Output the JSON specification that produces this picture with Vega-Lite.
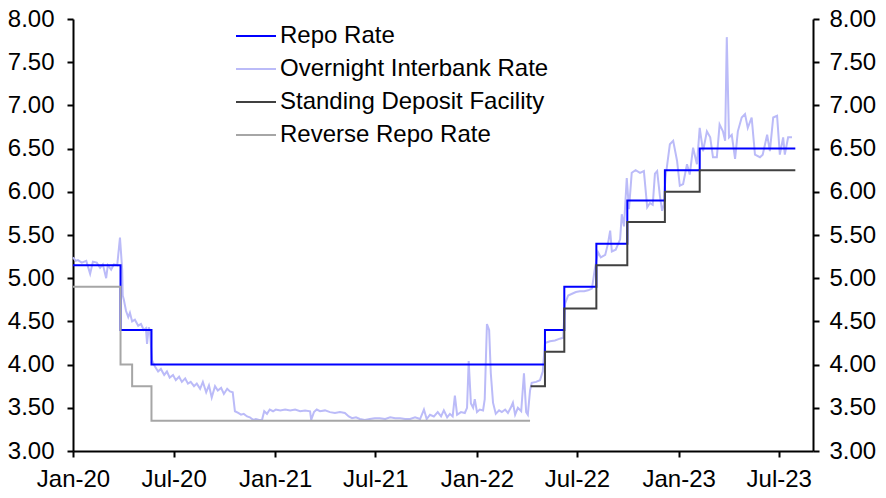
{
  "$schema": "https://vega.github.io/schema/vega-lite/v6.json",
  "width": 740,
  "height": 432,
  "autosize": {"type": "none"},
  "padding": {"left": 73, "top": 19, "right": 73, "bottom": 47},
  "background": "white",
  "config": {
    "view": {"stroke": null},
    "font": "Liberation Sans",
    "axis": {
      "labelFont": "Liberation Sans",
      "labelFontSize": 24,
      "labelColor": "black",
      "domainColor": "black",
      "domainWidth": 2,
      "tickColor": "black",
      "tickWidth": 2,
      "tickSize": 6,
      "grid": false,
      "title": null
    },
    "legend": {
      "orient": "none",
      "legendX": 162,
      "legendY": -4,
      "title": null,
      "labelFont": "Liberation Sans",
      "labelFontSize": 24,
      "labelColor": "black",
      "labelLimit": 400,
      "symbolType": "stroke",
      "symbolSize": 1600,
      "symbolStrokeWidth": 2,
      "labelOffset": 3,
      "rowPadding": 0,
      "padding": 0
    }
  },
  "datasets": {
    "ib": [
      {"d": "2020-01-01", "v": 5.24}, {"d": "2020-01-06", "v": 5.2}, {"d": "2020-01-10", "v": 5.21}, {"d": "2020-01-17", "v": 5.18},
      {"d": "2020-01-25", "v": 5.2}, {"d": "2020-02-01", "v": 5.05}, {"d": "2020-02-06", "v": 5.19}, {"d": "2020-02-13", "v": 5.18},
      {"d": "2020-02-19", "v": 5.12}, {"d": "2020-02-24", "v": 5.16}, {"d": "2020-03-01", "v": 5.0}, {"d": "2020-03-04", "v": 5.15},
      {"d": "2020-03-10", "v": 5.1}, {"d": "2020-03-15", "v": 5.16}, {"d": "2020-03-21", "v": 5.15}, {"d": "2020-03-26", "v": 5.47},
      {"d": "2020-03-30", "v": 5.1}, {"d": "2020-03-31", "v": 4.8}, {"d": "2020-04-02", "v": 4.75}, {"d": "2020-04-06", "v": 4.62},
      {"d": "2020-04-10", "v": 4.55}, {"d": "2020-04-13", "v": 4.6}, {"d": "2020-04-17", "v": 4.5}, {"d": "2020-04-22", "v": 4.52},
      {"d": "2020-04-28", "v": 4.45}, {"d": "2020-05-03", "v": 4.47}, {"d": "2020-05-08", "v": 4.4}, {"d": "2020-05-12", "v": 4.42},
      {"d": "2020-05-14", "v": 4.24}, {"d": "2020-05-17", "v": 4.43}, {"d": "2020-05-19", "v": 4.4}, {"d": "2020-05-23", "v": 4.05},
      {"d": "2020-05-28", "v": 3.98}, {"d": "2020-06-03", "v": 3.92}, {"d": "2020-06-08", "v": 3.95}, {"d": "2020-06-14", "v": 3.88},
      {"d": "2020-06-19", "v": 3.92}, {"d": "2020-06-24", "v": 3.85}, {"d": "2020-06-30", "v": 3.88}, {"d": "2020-07-05", "v": 3.82},
      {"d": "2020-07-11", "v": 3.86}, {"d": "2020-07-16", "v": 3.8}, {"d": "2020-07-22", "v": 3.84}, {"d": "2020-07-27", "v": 3.78},
      {"d": "2020-08-01", "v": 3.8}, {"d": "2020-08-07", "v": 3.75}, {"d": "2020-08-12", "v": 3.78}, {"d": "2020-08-18", "v": 3.72},
      {"d": "2020-08-23", "v": 3.8}, {"d": "2020-08-29", "v": 3.68}, {"d": "2020-09-03", "v": 3.76}, {"d": "2020-09-08", "v": 3.62},
      {"d": "2020-09-14", "v": 3.75}, {"d": "2020-09-19", "v": 3.7}, {"d": "2020-09-25", "v": 3.73}, {"d": "2020-09-30", "v": 3.66},
      {"d": "2020-10-06", "v": 3.72}, {"d": "2020-10-11", "v": 3.69}, {"d": "2020-10-16", "v": 3.68}, {"d": "2020-10-20", "v": 3.46},
      {"d": "2020-10-26", "v": 3.44}, {"d": "2020-10-31", "v": 3.42}, {"d": "2020-11-05", "v": 3.43}, {"d": "2020-11-11", "v": 3.4},
      {"d": "2020-11-16", "v": 3.39}, {"d": "2020-11-22", "v": 3.36}, {"d": "2020-11-27", "v": 3.37}, {"d": "2020-12-03", "v": 3.36},
      {"d": "2020-12-08", "v": 3.36}, {"d": "2020-12-12", "v": 3.46}, {"d": "2020-12-17", "v": 3.43}, {"d": "2020-12-22", "v": 3.48},
      {"d": "2020-12-28", "v": 3.46}, {"d": "2021-01-02", "v": 3.48}, {"d": "2021-01-10", "v": 3.47}, {"d": "2021-01-19", "v": 3.48},
      {"d": "2021-01-28", "v": 3.47}, {"d": "2021-02-06", "v": 3.48}, {"d": "2021-02-15", "v": 3.46}, {"d": "2021-02-24", "v": 3.47},
      {"d": "2021-03-05", "v": 3.46}, {"d": "2021-03-07", "v": 3.36}, {"d": "2021-03-12", "v": 3.45}, {"d": "2021-03-17", "v": 3.48},
      {"d": "2021-03-23", "v": 3.46}, {"d": "2021-04-01", "v": 3.47}, {"d": "2021-04-10", "v": 3.45}, {"d": "2021-04-19", "v": 3.44},
      {"d": "2021-04-28", "v": 3.45}, {"d": "2021-05-07", "v": 3.44}, {"d": "2021-05-14", "v": 3.4}, {"d": "2021-05-20", "v": 3.38},
      {"d": "2021-05-27", "v": 3.39}, {"d": "2021-06-03", "v": 3.37}, {"d": "2021-06-12", "v": 3.36}, {"d": "2021-06-21", "v": 3.37},
      {"d": "2021-06-30", "v": 3.38}, {"d": "2021-07-09", "v": 3.38}, {"d": "2021-07-19", "v": 3.37}, {"d": "2021-07-28", "v": 3.39},
      {"d": "2021-08-06", "v": 3.38}, {"d": "2021-08-15", "v": 3.38}, {"d": "2021-08-24", "v": 3.37}, {"d": "2021-09-02", "v": 3.37},
      {"d": "2021-09-11", "v": 3.39}, {"d": "2021-09-20", "v": 3.37}, {"d": "2021-09-27", "v": 3.48}, {"d": "2021-10-02", "v": 3.37},
      {"d": "2021-10-08", "v": 3.42}, {"d": "2021-10-15", "v": 3.4}, {"d": "2021-10-22", "v": 3.45}, {"d": "2021-10-28", "v": 3.4},
      {"d": "2021-11-02", "v": 3.47}, {"d": "2021-11-08", "v": 3.39}, {"d": "2021-11-13", "v": 3.43}, {"d": "2021-11-18", "v": 3.4},
      {"d": "2021-11-22", "v": 3.64}, {"d": "2021-11-26", "v": 3.42}, {"d": "2021-12-03", "v": 3.45}, {"d": "2021-12-10", "v": 3.44},
      {"d": "2021-12-14", "v": 3.5}, {"d": "2021-12-17", "v": 4.04}, {"d": "2021-12-21", "v": 3.55}, {"d": "2021-12-25", "v": 3.5},
      {"d": "2021-12-28", "v": 3.6}, {"d": "2022-01-01", "v": 3.45}, {"d": "2022-01-06", "v": 3.48}, {"d": "2022-01-12", "v": 3.47},
      {"d": "2022-01-15", "v": 3.6}, {"d": "2022-01-19", "v": 4.47}, {"d": "2022-01-23", "v": 4.4}, {"d": "2022-01-26", "v": 3.9},
      {"d": "2022-01-30", "v": 3.56}, {"d": "2022-02-04", "v": 3.43}, {"d": "2022-02-10", "v": 3.47}, {"d": "2022-02-15", "v": 3.45},
      {"d": "2022-02-21", "v": 3.48}, {"d": "2022-02-26", "v": 3.44}, {"d": "2022-03-03", "v": 3.5}, {"d": "2022-03-07", "v": 3.56},
      {"d": "2022-03-11", "v": 3.42}, {"d": "2022-03-16", "v": 3.5}, {"d": "2022-03-22", "v": 3.46}, {"d": "2022-03-27", "v": 3.9},
      {"d": "2022-03-31", "v": 3.45}, {"d": "2022-04-03", "v": 3.42}, {"d": "2022-04-07", "v": 3.7}, {"d": "2022-04-10", "v": 3.79},
      {"d": "2022-04-18", "v": 3.8}, {"d": "2022-04-25", "v": 3.82}, {"d": "2022-04-30", "v": 3.92}, {"d": "2022-05-04", "v": 4.25},
      {"d": "2022-05-13", "v": 4.27}, {"d": "2022-05-22", "v": 4.28}, {"d": "2022-05-31", "v": 4.3}, {"d": "2022-06-06", "v": 4.31},
      {"d": "2022-06-09", "v": 4.7}, {"d": "2022-06-15", "v": 4.8}, {"d": "2022-06-22", "v": 4.82}, {"d": "2022-06-29", "v": 4.84},
      {"d": "2022-07-06", "v": 4.85}, {"d": "2022-07-14", "v": 4.85}, {"d": "2022-07-21", "v": 4.86}, {"d": "2022-07-28", "v": 4.88},
      {"d": "2022-08-02", "v": 5.1}, {"d": "2022-08-08", "v": 5.3}, {"d": "2022-08-13", "v": 5.24}, {"d": "2022-08-21", "v": 5.27},
      {"d": "2022-08-26", "v": 5.4}, {"d": "2022-08-30", "v": 5.55}, {"d": "2022-09-02", "v": 5.31}, {"d": "2022-09-09", "v": 5.33},
      {"d": "2022-09-17", "v": 5.45}, {"d": "2022-09-20", "v": 5.74}, {"d": "2022-09-24", "v": 5.6}, {"d": "2022-09-29", "v": 6.16},
      {"d": "2022-10-03", "v": 5.8}, {"d": "2022-10-08", "v": 6.22}, {"d": "2022-10-15", "v": 6.25}, {"d": "2022-10-23", "v": 6.22},
      {"d": "2022-10-30", "v": 6.24}, {"d": "2022-11-05", "v": 5.82}, {"d": "2022-11-10", "v": 5.87}, {"d": "2022-11-15", "v": 5.85},
      {"d": "2022-11-19", "v": 6.21}, {"d": "2022-11-23", "v": 6.24}, {"d": "2022-11-28", "v": 5.95}, {"d": "2022-12-02", "v": 5.78},
      {"d": "2022-12-05", "v": 5.85}, {"d": "2022-12-08", "v": 6.16}, {"d": "2022-12-16", "v": 6.55}, {"d": "2022-12-22", "v": 6.59},
      {"d": "2022-12-29", "v": 6.36}, {"d": "2023-01-03", "v": 6.07}, {"d": "2023-01-09", "v": 6.09}, {"d": "2023-01-16", "v": 6.32},
      {"d": "2023-01-21", "v": 6.2}, {"d": "2023-01-27", "v": 6.51}, {"d": "2023-02-03", "v": 6.32}, {"d": "2023-02-08", "v": 6.74},
      {"d": "2023-02-14", "v": 6.47}, {"d": "2023-02-21", "v": 6.7}, {"d": "2023-02-27", "v": 6.63}, {"d": "2023-03-04", "v": 6.4},
      {"d": "2023-03-11", "v": 6.4}, {"d": "2023-03-16", "v": 6.78}, {"d": "2023-03-22", "v": 6.7}, {"d": "2023-03-26", "v": 6.59},
      {"d": "2023-03-29", "v": 7.79}, {"d": "2023-04-02", "v": 6.63}, {"d": "2023-04-07", "v": 6.66}, {"d": "2023-04-13", "v": 6.38},
      {"d": "2023-04-18", "v": 6.7}, {"d": "2023-04-25", "v": 6.86}, {"d": "2023-05-01", "v": 6.9}, {"d": "2023-05-06", "v": 6.74},
      {"d": "2023-05-13", "v": 6.86}, {"d": "2023-05-19", "v": 6.43}, {"d": "2023-05-28", "v": 6.4}, {"d": "2023-06-02", "v": 6.43},
      {"d": "2023-06-10", "v": 6.66}, {"d": "2023-06-15", "v": 6.47}, {"d": "2023-06-21", "v": 6.86}, {"d": "2023-06-28", "v": 6.88},
      {"d": "2023-07-03", "v": 6.43}, {"d": "2023-07-09", "v": 6.63}, {"d": "2023-07-12", "v": 6.43}, {"d": "2023-07-18", "v": 6.63},
      {"d": "2023-07-25", "v": 6.63}
    ],
    "steps": [
      {"s": "Repo Rate", "d": "2020-01-01", "v": 5.15},
      {"s": "Repo Rate", "d": "2020-03-27", "v": 4.4},
      {"s": "Repo Rate", "d": "2020-05-22", "v": 4.0},
      {"s": "Repo Rate", "d": "2022-05-04", "v": 4.4},
      {"s": "Repo Rate", "d": "2022-06-08", "v": 4.9},
      {"s": "Repo Rate", "d": "2022-08-05", "v": 5.4},
      {"s": "Repo Rate", "d": "2022-09-30", "v": 5.9},
      {"s": "Repo Rate", "d": "2022-12-07", "v": 6.25},
      {"s": "Repo Rate", "d": "2023-02-08", "v": 6.5},
      {"s": "Repo Rate", "d": "2023-07-31", "v": 6.5},
      {"s": "Standing Deposit Facility", "d": "2022-04-08", "v": 3.75},
      {"s": "Standing Deposit Facility", "d": "2022-05-04", "v": 4.15},
      {"s": "Standing Deposit Facility", "d": "2022-06-08", "v": 4.65},
      {"s": "Standing Deposit Facility", "d": "2022-08-05", "v": 5.15},
      {"s": "Standing Deposit Facility", "d": "2022-09-30", "v": 5.65},
      {"s": "Standing Deposit Facility", "d": "2022-12-07", "v": 6.0},
      {"s": "Standing Deposit Facility", "d": "2023-02-08", "v": 6.25},
      {"s": "Standing Deposit Facility", "d": "2023-07-31", "v": 6.25},
      {"s": "Reverse Repo Rate", "d": "2020-01-01", "v": 4.9},
      {"s": "Reverse Repo Rate", "d": "2020-03-27", "v": 4.0},
      {"s": "Reverse Repo Rate", "d": "2020-04-17", "v": 3.75},
      {"s": "Reverse Repo Rate", "d": "2020-05-22", "v": 3.35},
      {"s": "Reverse Repo Rate", "d": "2022-04-07", "v": 3.35}
    ]
  },
  "encoding": {
    "x": {
      "field": "d",
      "type": "temporal",
      "scale": {"domain": ["2020-01-01T00:00:00", "2023-09-01T00:00:00"]},
      "axis": {
        "format": "%b-%y",
        "tickCount": {"interval": "month", "step": 6},
        "labelPadding": 10,
        "labelFlush": false,
        "labelOverlap": false
      }
    }
  },
  "resolve": {"scale": {"y": "independent"}},
  "layer": [
    {
      "data": {"name": "ib"},
      "mark": {"type": "line", "strokeWidth": 2, "interpolate": "linear"},
      "encoding": {
        "y": {
          "field": "v",
          "type": "quantitative",
          "scale": {"domain": [3, 8], "nice": false, "zero": false},
          "axis": {"orient": "left", "values": [3, 3.5, 4, 4.5, 5, 5.5, 6, 6.5, 7, 7.5, 8], "format": ".2f", "labelPadding": 13}
        },
        "color": {
          "datum": "Overnight Interbank Rate",
          "scale": {
            "domain": ["Repo Rate", "Overnight Interbank Rate", "Standing Deposit Facility", "Reverse Repo Rate"],
            "range": ["#0000FF", "#BBBBF8", "#404040", "#A6A6A6"]
          }
        }
      }
    },
    {
      "data": {"name": "steps"},
      "mark": {"type": "line", "strokeWidth": 2, "interpolate": "step-after"},
      "encoding": {
        "y": {
          "field": "v",
          "type": "quantitative",
          "scale": {"domain": [3, 8], "nice": false, "zero": false},
          "axis": {"orient": "right", "values": [3, 3.5, 4, 4.5, 5, 5.5, 6, 6.5, 7, 7.5, 8], "format": ".2f", "labelPadding": 10}
        },
        "color": {"field": "s", "type": "nominal"}
      }
    }
  ]
}
